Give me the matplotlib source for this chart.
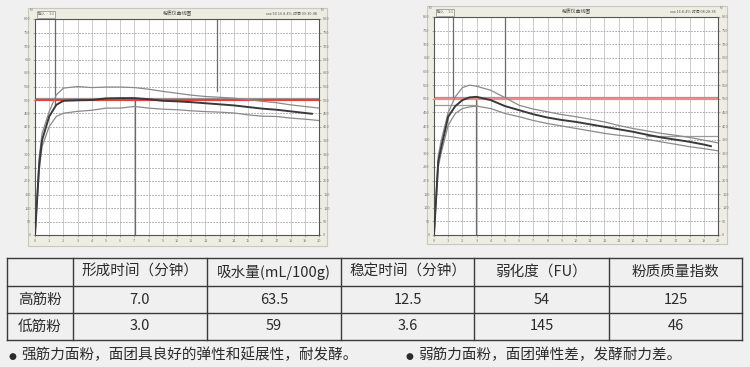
import numpy as np
import matplotlib.pyplot as plt
from matplotlib.patches import Rectangle

plt.rcParams['font.family'] = ['Noto Sans CJK SC', 'DejaVu Sans']

# 粉质曲线 (FU) —— 高筋粉
strong_t = [0, 0.3, 0.5, 1.0, 1.5, 2, 3, 4, 5, 6, 7, 8, 9, 10, 11, 12, 13, 14, 15, 16, 17, 18, 19, 20]
strong_upper = [0, 290, 377, 457, 519, 544, 550, 546, 548, 548, 546, 540, 532, 525, 518, 513, 510, 507, 502, 495, 490, 482, 476, 470]
strong_lower = [0, 240, 328, 402, 439, 451, 458, 462, 470, 470, 476, 470, 466, 464, 460, 457, 455, 452, 445, 440, 439, 433, 429, 424]
strong_mean_t = [0, 0.3, 0.5, 1.0, 1.5, 2, 3, 4, 5, 6, 7, 8, 9, 10, 11, 12, 13, 14, 15, 16, 17, 18, 19, 19.5]
strong_mean = [0, 265, 352, 439, 482, 497, 499, 500, 506, 507, 507, 503, 497, 495, 492, 488, 484, 480, 474, 468, 464, 458, 452, 449]

# 低筋粉
weak_t = [0, 0.3, 0.5, 1, 1.5, 2, 2.5, 3, 4, 5, 6, 7, 8, 9, 10, 11, 12, 13, 14, 15, 16, 17, 18, 19, 20]
weak_upper = [0, 290, 345, 450, 507, 541, 550, 546, 531, 504, 476, 462, 452, 442, 434, 425, 415, 402, 391, 382, 373, 366, 358, 348, 338]
weak_lower = [0, 250, 300, 403, 446, 464, 470, 473, 464, 446, 434, 420, 409, 400, 391, 382, 373, 366, 360, 351, 342, 333, 324, 317, 309]
weak_mean_t = [0, 0.3, 0.5, 1, 1.5, 2, 2.5, 3, 4, 5, 6, 7, 8, 9, 10, 11, 12, 13, 14, 15, 16, 17, 18, 19, 19.5]
weak_mean = [0, 270, 320, 434, 473, 495, 505, 507, 495, 473, 458, 443, 431, 422, 415, 406, 397, 388, 379, 368, 358, 350, 342, 332, 326]

# 表格
col_labels = ['形成时间（分钟）', '吸水量(mL/100g)', '稳定时间（分钟）', '弱化度（FU）', '粉质质量指数']
row_labels = ['高筋粉', '低筋粉']
cell_values = [['7.0', '63.5', '12.5', '54', '125'],
               ['3.0', '59', '3.6', '145', '46']]
notes = ['强筋力面粉，面团具良好的弹性和延展性，耐发酵。', '弱筋力面粉，面团弹性差，发酵耐力差。']

W, H = 750, 367
fig = plt.figure(figsize=(7.5, 3.67), dpi=100)
fig.patch.set_facecolor('#eff0ef')

bg = fig.add_axes([0, 0, 1, 1], zorder=0)
bg.set_xlim(0, W)
bg.set_ylim(H, 0)
bg.axis('off')


def px_axes(x0, y0, x1, y1):
    return fig.add_axes([x0 / W, (H - y1) / H, (x1 - x0) / W, (y1 - y0) / H], zorder=2)


def draw_chart(panel, area, t, up, lo, mt, mean, red_color, marks, hlines, info):
    px0, py0, px1, py1 = panel
    bg.add_patch(Rectangle((px0, py0), px1 - px0, py1 - py0, fc='#eeede2', ec='#c9c8bc', lw=0.8))
    ax = px_axes(*area)
    ax.set_facecolor('white')
    ax.set_xlim(0, 20)
    ax.set_ylim(0, 800)
    ax.set_xticks(range(21))
    ax.set_yticks(range(0, 801, 50))
    for x in range(1, 20):
        ax.axvline(x, color='#c4c4c4', lw=0.6, zorder=1)
    for y in range(50, 800, 50):
        ax.axhline(y, color='#9c9c9c', lw=0.6, ls=(0, (2, 1.5)), zorder=1)
    ax.tick_params(labelsize=2.8, labelcolor='#777777', length=1.5, width=0.4, color='#777777',
                   pad=1.5, right=True, labelright=True)
    for s in ax.spines.values():
        s.set_color('#555555')
        s.set_linewidth(0.8)
    ax.axhline(508, color='#9a9a9a', lw=0.9, zorder=2)
    ax.axhline(500, color=red_color, lw=1.6, zorder=3)
    for x, y0, y1 in marks:
        ax.plot([x, x], [y0, y1], color='#6a6a6a', lw=0.9, zorder=2)
    for y, x0, x1 in hlines:
        ax.plot([x0, x1], [y, y], color='#9a9a9a', lw=0.9, zorder=2)
    ax.plot(t, up, color='#8a8a8a', lw=0.9, zorder=4)
    ax.plot(t, lo, color='#8a8a8a', lw=0.9, zorder=4)
    ax.plot(mt, mean, color='#3a3a3a', lw=1.4, zorder=5)
    # 标题栏
    ty = (py0 + area[1]) / 2 + 0.5
    bg.add_patch(Rectangle((area[0] + 2, py0 + 3), 18, 7, fc='#f4f3ea', ec='#888888', lw=0.5))
    bg.text(area[0] + 11, ty, '输入  ~ 1:1', fontsize=2.5, color='#555555', ha='center', va='center')
    bg.text((area[0] + area[2]) / 2, ty, '粉质仪曲线图', fontsize=3.5, color='#444444', ha='center', va='center')
    bg.text(area[2] - 2, ty, info, fontsize=2.8, color='#555555', ha='right', va='center')
    bg.text(area[0] - 3, py0 + 2, 'FU', fontsize=2.2, color='#777777', ha='center', va='center')
    bg.text(area[2] + 4, py0 + 2, 'FU', fontsize=2.2, color='#777777', ha='center', va='center')
    return ax


draw_chart((28, 8, 327, 246), (35, 19, 319, 235), strong_t, strong_upper, strong_lower,
           strong_mean_t, strong_mean, '#e8413c',
           [(1.41, 480, 800), (7.03, 0, 507), (12.83, 535, 800)],
           [], 'xxx 50 16.8.4% 时间 09:30:48')

draw_chart((427, 6, 727, 244), (434, 17, 718, 235), weak_t, weak_upper, weak_lower,
           weak_mean_t, weak_mean, '#f08a86',
           [(1.34, 500, 800), (2.98, 0, 507), (5.0, 505, 800)],
           [(476, 0, 3), (363, 14.95, 20)], 'xxx 16.8.4% 时间 08:28:38')

# 表格
col_x = [7, 73, 207, 341, 474, 609, 742]
row_y = [258, 286, 313, 340]
line_kw = dict(color='#3a3a3a', lw=1.0)
for x in col_x:
    bg.plot([x, x], [row_y[0], row_y[-1]], **line_kw)
for y in row_y:
    bg.plot([col_x[0], col_x[-1]], [y, y], **line_kw)

txt_kw = dict(fontsize=10.5, color='#2b2b2b', ha='center', va='center')
for j, lab in enumerate(col_labels):
    bg.text((col_x[j + 1] + col_x[j + 2]) / 2, (row_y[0] + row_y[1]) / 2, lab, **txt_kw)
for i, lab in enumerate(row_labels):
    yc = (row_y[i + 1] + row_y[i + 2]) / 2
    bg.text((col_x[0] + col_x[1]) / 2, yc, lab, **txt_kw)
    for j, v in enumerate(cell_values[i]):
        bg.text((col_x[j + 1] + col_x[j + 2]) / 2, yc, v, **txt_kw)

for xb, note in zip([12, 409], notes):
    bg.text(xb, 356, '●', fontsize=6.5, color='#2b2b2b', ha='center', va='center', family='DejaVu Sans')
    bg.text(xb + 9, 355, note, fontsize=10.5, color='#2b2b2b', ha='left', va='center')

fig.savefig('out.png', dpi=100, facecolor=fig.get_facecolor())
